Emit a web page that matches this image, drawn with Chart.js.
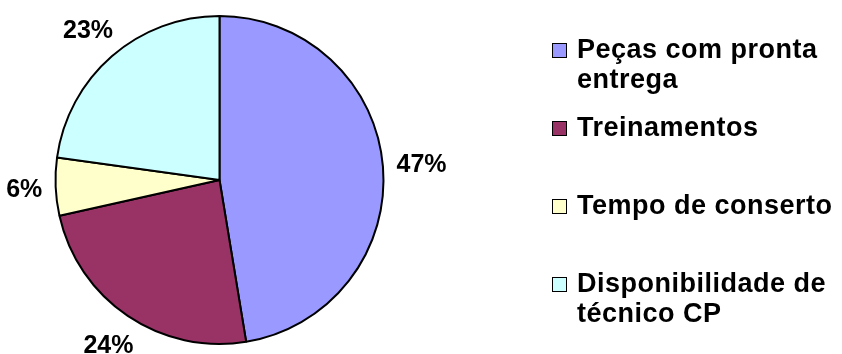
<!DOCTYPE html>
<html>
<head>
<meta charset="utf-8">
<script src="https://cdn.jsdelivr.net/npm/chart.js@4.4.1/dist/chart.umd.min.js"></script>
<style>
  html, body { margin: 0; padding: 0; background: #fff; }
</style>
</head>
<body>
<canvas id="grafico" width="842" height="354"></canvas>
<script>
// categorias (cada uma dividida nas linhas da legenda)
const categorias = [
    ["Peças com pronta", "entrega"],
    ["Treinamentos"],
    ["Tempo de conserto"],
    ["Disponibilidade de", "técnico CP"]
];
// valores (percentual)
const valores = [47.4, 24.1, 5.7, 22.8];
const cores = ["#9999FF", "#993366", "#FFFFCC", "#CCFFFF"];

const fonte = '"Liberation Sans", Arial, sans-serif';

// rótulos de porcentagem fora da pizza
const rotulosPct = {
    id: "rotulosPct",
    afterDatasetsDraw(chart) {
        const ctx = chart.ctx;
        const meta = chart.getDatasetMeta(0);
        const total = valores.reduce((a, b) => a + b, 0);
        ctx.save();
        ctx.font = "bold 25px " + fonte;
        ctx.fillStyle = "#000";
        ctx.textAlign = "center";
        ctx.textBaseline = "alphabetic";
        meta.data.forEach((arco, i) => {
            const p = arco.getProps(["x", "y", "startAngle", "endAngle", "outerRadius"], true);
            const meio = (p.startAngle + p.endAngle) / 2;
            const texto = Math.round(valores[i] / total * 100) + "%";
            const w = ctx.measureText(texto).width;
            const h = 18;
            const c = Math.cos(meio), s = Math.sin(meio);
            const dist = p.outerRadius + 13 + Math.abs(c) * w / 2 + Math.abs(s) * h / 2;
            ctx.fillText(texto, p.x + c * dist, p.y + s * dist + h / 2);
        });
        ctx.restore();
    }
};

// legenda à direita
const legenda = {
    id: "legenda",
    afterDraw(chart) {
        const ctx = chart.ctx;
        const x0 = 552;
        ctx.save();
        ctx.font = "bold 27px " + fonte;
        if ("letterSpacing" in ctx) ctx.letterSpacing = "0.5px";
        ctx.textBaseline = "alphabetic";
        ctx.textAlign = "left";
        categorias.forEach((linhas, i) => {
            const base = 58 + i * 78;
            ctx.fillStyle = cores[i];
            ctx.fillRect(x0, base - 15, 15, 15);
            ctx.strokeStyle = "#000";
            ctx.lineWidth = 1;
            ctx.strokeRect(x0 + 0.5, base - 14.5, 14, 14);
            ctx.fillStyle = "#000";
            linhas.forEach((linha, j) => {
                ctx.fillText(linha, x0 + 25, base + j * 30);
            });
        });
        ctx.restore();
    }
};

new Chart(document.getElementById("grafico"), {
    type: "pie",
    data: {
        labels: categorias.map(l => l.join(" ")),
        datasets: [{
            data: valores,
            backgroundColor: cores,
            borderColor: "#000",
            borderWidth: 2
        }]
    },
    options: {
        responsive: false,
        animation: false,
        layout: { padding: { left: 54, right: 457, top: 15, bottom: 9 } },
        plugins: {
            legend: { display: false },
            tooltip: { enabled: false }
        }
    },
    plugins: [rotulosPct, legenda]
});
</script>
</body>
</html>
